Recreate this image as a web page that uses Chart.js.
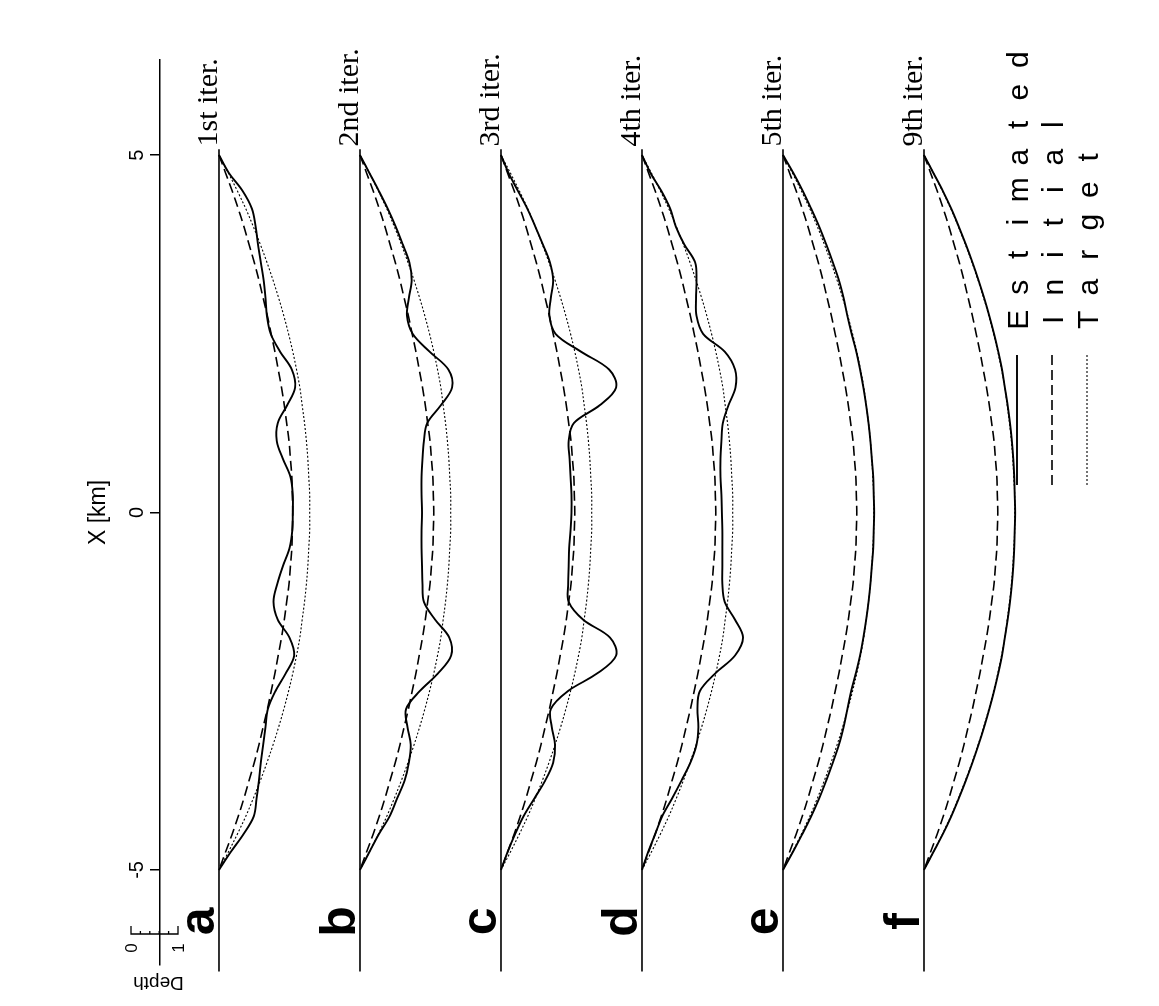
<!DOCTYPE html>
<html><head><meta charset="utf-8">
<script src="https://cdn.jsdelivr.net/npm/chart.js@4/dist/chart.umd.min.js"></script>
<style>html,body{margin:0;padding:0;background:#fff;}#wrap{width:1159px;height:1006px;}</style>
</head><body><div id="wrap"><canvas id="c" width="1159" height="1006"></canvas></div>
<script>
// ---- data ----
const xGrid = [5,4.75,4.5,4.25,4,3.75,3.5,3.25,3,2.75,2.5,2.25,2,1.75,1.5,1.25,1,0.75,0.5,0.25,0,
  -0.25,-0.5,-0.75,-1,-1.25,-1.5,-1.75,-2,-2.25,-2.5,-2.75,-3,-3.25,-3.5,-3.75,-4,-4.25,-4.5,-4.75,-5];
const xTicks = [-5, 0, 5];
const panelLetters = ['a','b','c','d','e','f'];
const iterLabels = ['1st iter.','2nd iter.','3rd iter.','4th iter.','5th iter.','9th iter.'];
const panelOffsets = [0, 3, 6, 9, 12, 15];
const baselineX = [5.08, -6.42];
const legendLabels = ['Estimated','Initial','Target'];

const targetDepth = [0,0.2,0.39,0.57,0.73,0.88,1.02,1.15,1.27,1.38,1.48,1.57,1.65,1.72,1.77,1.82,1.86,1.89,1.91,1.93,1.93,
  1.93,1.91,1.89,1.86,1.82,1.77,1.72,1.65,1.57,1.48,1.38,1.27,1.15,1.02,0.88,0.73,0.57,0.39,0.2,0];
const initialDepth = [0,0.14,0.28,0.41,0.53,0.64,0.75,0.85,0.94,1.03,1.11,1.19,1.26,1.33,1.39,1.44,1.49,1.52,1.55,1.56,1.57,
  1.56,1.55,1.52,1.49,1.44,1.39,1.33,1.26,1.19,1.11,1.03,0.94,0.85,0.75,0.64,0.53,0.41,0.28,0.14,0];
const estA = [0,0.21,0.50,0.70,0.78,0.83,0.89,0.95,0.99,1.02,1.10,1.30,1.55,1.62,1.45,1.25,1.23,1.36,1.52,1.57,1.57,
  1.56,1.50,1.36,1.24,1.16,1.25,1.50,1.60,1.42,1.20,1.04,0.99,0.94,0.89,0.85,0.80,0.74,0.52,0.25,0];
const estB = [0,0.2,0.4,0.59,0.76,0.91,1.05,1.10,1.04,1.0,1.12,1.48,1.88,1.96,1.72,1.43,1.36,1.33,1.31,1.31,1.32,
  1.31,1.31,1.32,1.33,1.36,1.6,1.9,1.94,1.66,1.27,0.98,1.01,1.08,1.04,0.95,0.79,0.63,0.4,0.2,0];
const estC = [0,0.16,0.36,0.56,0.73,0.89,1.04,1.11,1.06,1.03,1.16,1.7,2.3,2.45,2.1,1.55,1.44,1.46,1.48,1.5,1.5,
  1.48,1.45,1.44,1.43,1.44,1.75,2.32,2.45,2.05,1.42,1.06,1.08,1.15,1.11,0.94,0.71,0.48,0.3,0.14,0];
const estD = [0,0.18,0.41,0.6,0.72,0.9,1.13,1.16,1.15,1.16,1.3,1.76,1.98,1.99,1.84,1.72,1.69,1.67,1.67,1.69,1.7,
  1.71,1.71,1.71,1.71,1.76,1.98,2.15,1.98,1.56,1.23,1.18,1.2,1.16,1.03,0.84,0.64,0.43,0.28,0.13,0];
const estE = [0,0.22,0.42,0.6,0.77,0.92,1.06,1.19,1.29,1.37,1.46,1.56,1.64,1.71,1.77,1.82,1.86,1.89,1.92,1.93,1.94,
  1.93,1.92,1.89,1.86,1.82,1.77,1.71,1.64,1.55,1.45,1.37,1.29,1.19,1.06,0.92,0.77,0.6,0.41,0.21,0];
const estF = [0,0.2,0.4,0.58,0.74,0.89,1.03,1.16,1.28,1.39,1.49,1.58,1.66,1.72,1.78,1.83,1.87,1.9,1.92,1.93,1.94,
  1.93,1.92,1.9,1.87,1.83,1.78,1.72,1.66,1.58,1.49,1.39,1.28,1.16,1.03,0.89,0.74,0.58,0.4,0.2,0];
const estimated = [estA, estB, estC, estD, estE, estF];

// ---- build datasets ----
function toPoints(depths, off) { return xGrid.map((xv, k) => ({x: off + depths[k], y: xv})); }
const datasets = [];
panelOffsets.forEach((off, i) => {
  datasets.push({label:'base', data: baselineX.map(v => ({x: off, y: v})), borderColor:'#000', borderWidth:1.6, tension:0, clip:false});
  datasets.push({label:'Target', data: toPoints(targetDepth, off), borderColor:'#000', borderWidth:1.1, borderDash:[2,2], tension:0.35});
  datasets.push({label:'Initial', data: toPoints(initialDepth, off), borderColor:'#000', borderWidth:1.6, borderDash:[10,5], tension:0.35});
  datasets.push({label:'Estimated', data: toPoints(estimated[i], off), borderColor:'#000', borderWidth:1.9, tension:0.35});
});
datasets.forEach(d => { d.showLine = true; d.pointRadius = 0; d.fill = false; });

const annot = {
  id: 'annot',
  afterDraw(chart) {
    const {ctx, scales: {x, y}} = chart;
    ctx.save();
    ctx.fillStyle = '#000';
    ctx.strokeStyle = '#000';
    panelOffsets.forEach((off, i) => {
      const bx = x.getPixelForValue(off);
      ctx.save();
      ctx.translate(bx - 2, y.getPixelForValue(5.12));
      ctx.rotate(-Math.PI / 2);
      ctx.font = '30px "Liberation Serif"';
      ctx.textAlign = 'left'; ctx.textBaseline = 'alphabetic';
      ctx.fillText(iterLabels[i], 0, 0);
      ctx.restore();
      ctx.save();
      ctx.translate(bx - 5, y.getPixelForValue(-5.72));
      ctx.rotate(-Math.PI / 2);
      ctx.font = 'bold 50px "Liberation Sans"';
      ctx.textAlign = 'center'; ctx.textBaseline = 'alphabetic';
      ctx.fillText(panelLetters[i], 0, 0);
      ctx.restore();
    });
    // legend
    const legX = [1017, 1052, 1087];
    const dashes = [[], [10, 5], [2, 2]];
    const widths = [1.9, 1.6, 1.1];
    legendLabels.forEach((lab, j) => {
      ctx.save();
      ctx.lineWidth = widths[j];
      ctx.setLineDash(dashes[j]);
      ctx.beginPath(); ctx.moveTo(legX[j], 355); ctx.lineTo(legX[j], 485); ctx.stroke();
      ctx.restore();
      ctx.font = '30px "Liberation Sans"';
      for (let k = 0; k < lab.length; k++) {
        ctx.save();
        ctx.translate(legX[j] + 11, 336 - 32.5 * (k + 0.5));
        ctx.rotate(-Math.PI / 2);
        ctx.textAlign = 'center'; ctx.textBaseline = 'alphabetic';
        ctx.fillText(lab[k], 0, 0);
        ctx.restore();
      }
    });
    // depth scale bar
    const unit = x.getPixelForValue(1) - x.getPixelForValue(0);
    const x0 = 131, yb = 934;
    ctx.lineWidth = 1.3;
    ctx.setLineDash([]);
    ctx.beginPath();
    ctx.moveTo(x0, yb - 8); ctx.lineTo(x0, yb); ctx.lineTo(x0 + unit, yb); ctx.lineTo(x0 + unit, yb - 8);
    for (let t = 1; t < 5; t++) { ctx.moveTo(x0 + unit * t / 5, yb); ctx.lineTo(x0 + unit * t / 5, yb - 3); }
    ctx.stroke();
    ctx.font = '17px "Liberation Sans"';
    [['0', x0], ['1', x0 + unit]].forEach(([s, px]) => {
      ctx.save(); ctx.translate(px + 6, yb + 14); ctx.rotate(-Math.PI / 2);
      ctx.textAlign = 'center'; ctx.textBaseline = 'alphabetic'; ctx.fillText(s, 0, 0); ctx.restore();
    });
    ctx.save(); ctx.translate(x0 + unit / 2 + 4, 982); ctx.rotate(Math.PI);
    ctx.font = '19px "Liberation Sans"'; ctx.textAlign = 'center'; ctx.textBaseline = 'middle';
    ctx.fillText('Depth', 0, 0); ctx.restore();
    ctx.restore();
  }
};

new Chart(document.getElementById('c'), {
  type: 'scatter',
  data: { datasets },
  options: {
    responsive: false, animation: false, events: [],
    layout: { padding: { left: 0, right: 0, top: 60, bottom: 41 } },
    plugins: { legend: { display: false }, tooltip: { enabled: false } },
    scales: {
      x: { type: 'linear', min: -1.255, max: 20, display: false },
      y: {
        type: 'linear', min: -6.33, max: 6.33,
        afterBuildTicks: s => { s.ticks = xTicks.map(v => ({ value: v })); },
        afterFit: s => { s.width = 160; },
        ticks: { minRotation: 90, maxRotation: 90, crossAlign: 'center', padding: 4, color: '#000',
                 font: { family: 'Liberation Sans', size: 20 } },
        grid: { drawOnChartArea: false, drawTicks: true, tickLength: 10, color: '#000', lineWidth: 1.5 },
        border: { display: true, color: '#000', width: 1.5 },
        title: { display: true, text: 'X [km]', color: '#000', padding: { top: 85, bottom: 0 },
                 font: { family: 'Liberation Sans', size: 23 } }
      }
    }
  },
  plugins: [annot]
});
</script></body></html>
